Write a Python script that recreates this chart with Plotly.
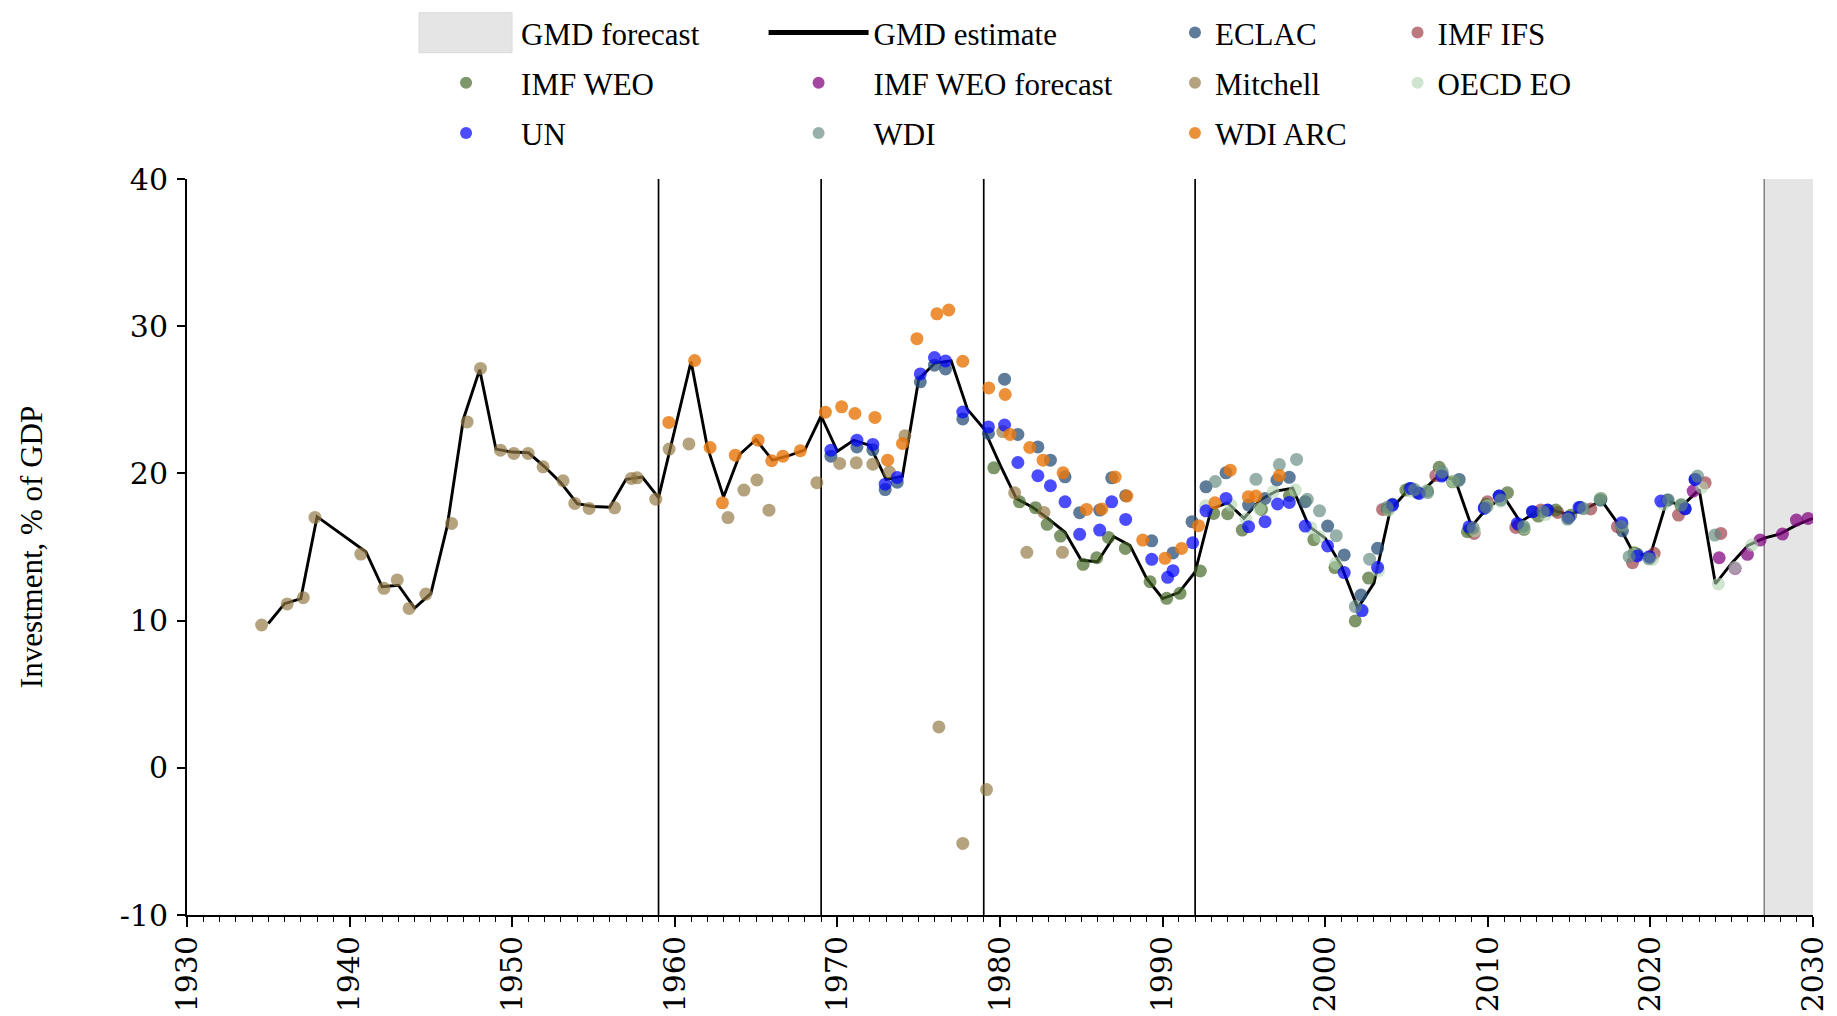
import plotly.graph_objects as go

FONT = "Liberation Serif"
TICK_FONT = "DejaVu Serif"

# ---------------- data ----------------
x_ticks = [1930, 1940, 1950, 1960, 1970, 1980, 1990, 2000, 2010, 2020, 2030]
y_ticks = [-10, 0, 10, 20, 30, 40]
y_ticktext = ["-10", "0", "10", "20", "30", "40"]

forecast_start = 2027
forecast_end = 2030
break_years = [1959, 1969, 1979, 1992]

gmd_year = [1935, 1936, 1937, 1938] + list(range(1941, 2031))
gmd_value = [9.8, 11.15, 11.5, 17.06,
             14.68, 12.3, 12.4, 10.85, 11.85, 16.4, 23.7, 27.05, 21.65, 21.45,
             21.4, 20.45, 19.35, 17.95, 17.75, 17.7, 19.6, 19.75, 18.35, 23.0,
             27.6, 21.8, 18.4, 21.3, 22.3, 20.9, 21.2, 21.6, 23.9, 21.5,
             22.25, 21.9, 19.6, 19.8, 26.4, 27.5, 27.65, 24.35, 23.05, 20.6,
             18.3, 17.7, 16.9, 16.0, 14.1, 14.0, 15.7, 15.1, 12.9, 11.5,
             11.9, 13.3, 17.6, 18.0, 16.95, 18.2, 18.8, 19.0, 16.4, 15.6,
             13.7, 10.85, 12.55, 17.5, 18.75, 18.8, 19.9, 19.55, 16.4, 17.7,
             18.4, 16.7, 17.4, 17.5, 17.2, 17.6, 18.15, 16.6, 14.5, 14.45,
             18.1, 17.85, 18.9, 12.5, 13.9, 15.1, 15.6, 15.9, 16.5, 16.95]

eclac_year = [1969.6, 1971.2, 1972.18, 1972.94, 1973.68, 1975.1, 1975.97, 1976.65, 1977.71, 1979.29,
              1980.28, 1981.1, 1982.33, 1983.1, 1984.0, 1984.9, 1986.13, 1986.87, 1987.73, 1989.33,
              1990.64, 1991.81, 1992.67, 1993.9, 1995.29, 1996.3, 1997.03, 1997.79, 1998.77, 2000.15,
              2001.17, 2002.2, 2003.22, 2004.14, 2005.2, 2005.68, 2007.2, 2008.24, 2008.9, 2009.8,
              2010.7, 2011.9, 2012.75, 2013.7, 2014.96, 2015.7, 2016.95, 2018.28, 2019.2, 2020.0,
              2021.05, 2022.14, 2022.75]
eclac_value = [21.17, 21.8, 21.6, 18.9, 19.4, 26.22, 27.35, 27.1, 23.7, 22.71,
               26.4, 22.65, 21.8, 20.9, 19.77, 17.33, 17.51, 19.7, 18.48, 15.42,
               14.6, 16.72, 19.09, 20.04, 17.85, 18.3, 19.55, 19.73, 18.08, 16.42,
               14.46, 11.74, 14.91, 17.9, 18.98, 18.69, 19.9, 19.59, 16.2, 17.7,
               18.46, 16.5, 17.4, 17.5, 17.01, 17.7, 18.19, 16.1, 14.5, 14.3,
               18.19, 17.6, 19.59]

ifs_year = [2003.53, 2006.8, 2009.16, 2009.98, 2011.72, 2013.26, 2014.3, 2016.33, 2017.97, 2018.9,
            2020.23, 2021.73, 2023.37, 2024.33]
ifs_value = [17.55, 19.85, 15.92, 18.07, 16.33, 17.51, 17.35, 17.58, 16.38, 13.93,
             14.57, 17.17, 19.36, 15.92]

weo_year = [1979.62, 1981.2, 1982.18, 1982.9, 1983.72, 1985.11, 1985.95, 1986.67, 1987.71, 1989.23,
            1990.25, 1991.07, 1992.32, 1993.14, 1994.0, 1994.9, 1996.08, 1997.8, 1999.3, 2000.6,
            2001.85, 2002.67, 2003.83, 2004.96, 2006.29, 2007.01, 2007.83, 2008.75, 2009.9, 2011.21,
            2012.23, 2013.1, 2014.18, 2015.1, 2016.95, 2019.0, 2021.87]
weo_value = [20.38, 18.07, 17.67, 16.54, 15.74, 13.82, 14.27, 15.65, 14.9, 12.64,
             11.51, 11.85, 13.37, 17.28, 17.26, 16.15, 17.55, 18.5, 15.5, 13.6,
             9.98, 12.89, 17.55, 18.87, 18.82, 20.41, 19.43, 16.04, 17.9, 18.69,
             16.2, 17.1, 17.51, 17.15, 18.3, 14.61, 17.85]

weo_fc_year = [2022.63, 2024.23, 2025.21, 2025.97, 2026.75, 2028.12, 2028.98, 2029.7]
weo_fc_value = [18.8, 14.27, 13.55, 14.5, 15.47, 15.88, 16.83, 16.94]

mitchell_year = [1934.59, 1936.16, 1937.15, 1937.87, 1940.69, 1942.11, 1942.93, 1943.66, 1944.69, 1946.27,
                 1947.23, 1948.05, 1949.28, 1950.1, 1950.98, 1951.9, 1953.13, 1953.85, 1954.73, 1956.3,
                 1957.33, 1957.68, 1958.83, 1959.65, 1960.87, 1963.27, 1964.25, 1965.05, 1965.79, 1968.74,
                 1970.14, 1971.16, 1972.18, 1973.2, 1974.15, 1976.24, 1977.71, 1979.17, 1980.17, 1980.9,
                 1981.65, 1982.7, 1983.84]
mitchell_value = [9.7, 11.13, 11.56, 17.01, 14.52, 12.19, 12.76, 10.83, 11.8, 16.6,
                  23.5, 27.13, 21.58, 21.36, 21.36, 20.45, 19.5, 17.96, 17.62, 17.66,
                  19.66, 19.7, 18.25, 21.65, 22.0, 17.0, 18.87, 19.55, 17.5, 19.37,
                  20.68, 20.72, 20.63, 20.09, 22.55, 2.78, -5.14, -1.48, 22.84, 18.68,
                  14.64, 17.35, 14.64]

oecd_year = [1992.65, 1994.2, 1995.13, 1995.95, 1996.8, 1998.16, 1999.12, 1999.63, 2000.66, 2002.3,
             2003.28, 2003.9, 2005.3, 2006.2, 2007.1, 2007.85, 2009.2, 2010.0, 2010.8, 2012.25,
             2013.55, 2014.95, 2015.8, 2016.9, 2018.3, 2019.0, 2020.13, 2020.8, 2021.9, 2023.16,
             2024.18, 2025.2, 2026.23]
oecd_value = [17.8, 17.85, 16.9, 17.6, 18.75, 18.87, 16.3, 15.7, 13.9, 10.7,
              13.4, 17.5, 18.8, 18.8, 20.0, 19.45, 16.1, 17.8, 18.1, 16.3,
              17.2, 16.9, 17.6, 18.3, 16.5, 14.5, 14.16, 17.9, 17.9, 19.05,
              12.49, 13.6, 15.13]

un_year = [1969.6, 1971.2, 1972.18, 1972.94, 1973.68, 1975.1, 1975.97, 1976.65, 1977.71, 1979.29,
           1980.28, 1981.1, 1982.33, 1983.1, 1984.0, 1984.9, 1986.13, 1986.87, 1987.73, 1989.33,
           1990.31, 1990.64, 1991.85, 1992.67, 1993.9, 1995.29, 1996.3, 1997.07, 1997.79, 1998.77,
           2000.15, 2001.17, 2002.26, 2003.22, 2004.14, 2005.27, 2005.78, 2007.17, 2008.85, 2009.78,
           2010.7, 2011.82, 2012.75, 2013.67, 2014.96, 2015.61, 2018.24, 2019.2, 2019.92, 2020.64,
           2022.14, 2022.75]
un_value = [21.58, 22.26, 21.97, 19.27, 19.72, 26.76, 27.87, 27.64, 24.17, 23.16,
            23.28, 20.74, 19.84, 19.16, 18.07, 15.86, 16.15, 18.07, 16.87, 14.16,
            12.94, 13.39, 15.29, 17.46, 18.3, 16.38, 16.72, 17.92, 18.03, 16.42,
            15.07, 13.26, 10.68, 13.62, 17.85, 18.98, 18.64, 19.82, 16.38, 17.62,
            18.46, 16.6, 17.4, 17.51, 17.01, 17.69, 16.65, 14.39, 14.34, 18.12,
            17.6, 19.59]

wdi_year = [1993.24, 1995.74, 1997.18, 1998.24, 1998.9, 1999.65, 2000.68, 2001.85, 2002.73, 2003.8,
            2005.5, 2006.3, 2007.2, 2008.2, 2009.1, 2009.9, 2010.8, 2012.2, 2013.4, 2014.9,
            2015.9, 2016.9, 2018.2, 2018.69, 2019.9, 2021.1, 2021.9, 2022.9, 2023.96]
wdi_value = [19.45, 19.6, 20.6, 20.95, 18.24, 17.46, 15.77, 10.95, 14.17, 17.7,
             18.9, 18.7, 20.1, 19.5, 16.3, 17.7, 18.2, 16.4, 17.4, 16.9,
             17.6, 18.2, 16.4, 14.34, 14.2, 18.2, 17.85, 19.82, 15.81]

arc_year = [1959.63, 1961.22, 1962.17, 1962.93, 1963.72, 1965.12, 1965.96, 1966.65, 1967.72, 1969.26,
            1970.26, 1971.08, 1972.31, 1973.09, 1974.0, 1974.89, 1976.12, 1976.85, 1977.71, 1979.31,
            1980.32, 1980.62, 1981.83, 1982.65, 1983.88, 1985.32, 1986.26, 1987.08, 1987.8, 1988.78,
            1990.15, 1991.17, 1992.21, 1993.22, 1994.16, 1995.27, 1995.74, 1997.18]
arc_value = [23.46, 27.67, 21.76, 18.0, 21.24, 22.26, 20.86, 21.17, 21.54, 24.16,
             24.52, 24.07, 23.8, 20.9, 22.03, 29.15, 30.84, 31.1, 27.62, 25.81,
             25.36, 22.65, 21.76, 20.9, 20.04, 17.55, 17.58, 19.75, 18.46, 15.47,
             14.23, 14.9, 16.45, 18.0, 20.22, 18.41, 18.46, 19.85]

# ---------------- styles ----------------
MARKER_SIZE = 13
sources = [
    # name, x, y, colour, legend
    ("ECLAC", eclac_year, eclac_value, "rgba(40,80,120,0.75)", "legend3"),
    ("IMF IFS", ifs_year, ifs_value, "rgba(150,50,60,0.65)", "legend4"),
    ("IMF WEO", weo_year, weo_value, "rgba(65,100,35,0.68)", "legend"),
    ("IMF WEO forecast", weo_fc_year, weo_fc_value, "rgba(128,0,128,0.72)", "legend2"),
    ("Mitchell", mitchell_year, mitchell_value, "rgba(145,120,65,0.68)", "legend3"),
    ("OECD EO", oecd_year, oecd_value, "rgba(175,212,175,0.6)", "legend4"),
    ("UN", un_year, un_value, "rgba(0,0,255,0.7)", "legend"),
    ("WDI", wdi_year, wdi_value, "rgba(95,135,125,0.65)", "legend2"),
    ("WDI ARC", arc_year, arc_value, "rgba(232,120,15,0.82)", "legend3"),
]

fig = go.Figure()

# legend entry for the forecast shading (shading itself is a shape)
fig.add_trace(go.Scatter(x=[None], y=[None], mode="lines", name="GMD forecast",
                         line=dict(color="rgba(0,0,0,0)", width=0),
                         legend="legend", legendgroup="g0", hoverinfo="skip"))

fig.add_trace(go.Scatter(x=gmd_year, y=gmd_value, mode="lines", name="GMD estimate",
                         line=dict(color="black", width=2.9),
                         legend="legend2", legendgroup="g1"))

for i, (name, xs, ys, col, lg) in enumerate(sources):
    fig.add_trace(go.Scatter(x=xs, y=ys, mode="markers", name=name,
                             marker=dict(color=col, size=MARKER_SIZE, line=dict(width=0)),
                             legend=lg, legendgroup="s%d" % i))

shapes = []
# forecast shading
shapes.append(dict(type="rect", xref="x", yref="y", x0=forecast_start, x1=forecast_end,
                   y0=y_ticks[0], y1=y_ticks[-1], fillcolor="#e5e5e5",
                   line=dict(width=0), layer="below"))
shapes.append(dict(type="line", xref="x", yref="y", x0=forecast_start, x1=forecast_start,
                   y0=y_ticks[0], y1=y_ticks[-1], line=dict(color="#7f7f7f", width=1.5),
                   layer="below"))
for yr in break_years:
    shapes.append(dict(type="line", xref="x", yref="y", x0=yr, x1=yr,
                       y0=y_ticks[0], y1=y_ticks[-1], line=dict(color="black", width=1.7),
                       layer="below"))
# large swatch for the "GMD forecast" legend entry
shapes.append(dict(type="rect", xref="paper", yref="paper",
                   x0=0.1427, x1=0.1999, y0=1.1716, y1=1.2259,
                   fillcolor="#e5e5e5", line=dict(color="#dadada", width=1), layer="above"))

legend_common = dict(orientation="v", xanchor="left", yanchor="top", y=1.2353,
                     traceorder="grouped", tracegroupgap=7, bgcolor="rgba(0,0,0,0)",
                     font=dict(family=FONT, size=31, color="black"), itemsizing="constant")

# the page body adds an 8 px offset, so the figure is 8 px smaller with 8 px smaller l/t margins
fig.update_layout(
    width=1829, height=1008,
    margin=dict(l=179, r=24, t=171, b=101, autoexpand=False),
    paper_bgcolor="white", plot_bgcolor="white",
    font=dict(family=FONT, color="black", size=30),
    shapes=shapes,
    legend=dict(x=0.1378, itemwidth=100, **legend_common),
    legend2=dict(x=0.3546, itemwidth=100, **legend_common),
    legend3=dict(x=0.6076, itemwidth=30, **legend_common),
    legend4=dict(x=0.7445, itemwidth=30, **legend_common),
    xaxis=dict(range=[x_ticks[0], x_ticks[-1]], tickmode="array", tickvals=x_ticks,
               ticktext=[str(t) for t in x_ticks], tickangle=-90, ticklabelstandoff=-3,
               showline=True, linecolor="black", linewidth=2, mirror=False,
               ticks="outside", ticklen=10, tickwidth=1.5, tickcolor="black",
               tickfont=dict(family=TICK_FONT, size=30, color="black"),
               showgrid=False, zeroline=False,
               minor=dict(ticks="outside", ticklen=5, tickwidth=1, tickcolor="black",
                          tickmode="linear", tick0=x_ticks[0], dtick=1, showgrid=False)),
    yaxis=dict(range=[y_ticks[0], y_ticks[-1]], tickmode="array", tickvals=y_ticks,
               ticktext=y_ticktext, ticklabelstandoff=3,
               showline=True, linecolor="black", linewidth=2,
               ticks="outside", ticklen=8, tickwidth=1.5, tickcolor="black",
               tickfont=dict(family=TICK_FONT, size=30, color="black"),
               showgrid=False, zeroline=False,
               title=dict(text="Investment, % of GDP", standoff=68,
                          font=dict(family=FONT, size=31, color="black"))),
)

fig.write_html("out.html")
